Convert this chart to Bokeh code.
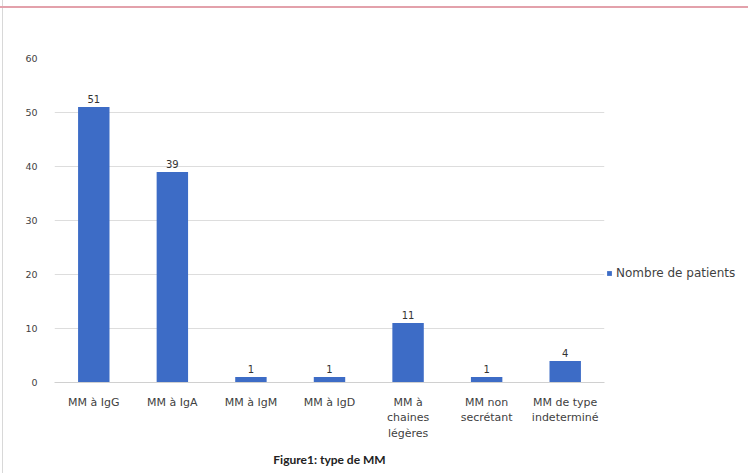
from bokeh.plotting import figure
from bokeh.models import ColumnDataSource, Legend, LegendItem, LabelSet, Title
from bokeh.core.properties import value
from bokeh.embed import file_html
from bokeh.resources import INLINE

# Myeloma types and patient counts
categories = [
    "MM à IgG",
    "MM à IgA",
    "MM à IgM",
    "MM à IgD",
    "MM à\nchaines\nlégères",
    "MM non\nsecrétant",
    "MM de type\nindeterminé",
]
patients = [51, 39, 1, 1, 11, 1, 4]
y_ticks = [0, 10, 20, 30, 40, 50, 60]

FONT = "DejaVu Sans"
TITLE_FONT = "Lato"
BAR = "#3d6cc6"
TEXT = "#3f3f3f"

src = ColumnDataSource(dict(cat=categories, n=patients, lbl=[str(v) for v in patients]))

p = figure(
    frame_width=550, frame_height=324,
    x_range=categories, y_range=(0, 60),
    output_backend="svg", toolbar_location=None,
    min_border_left=54, min_border_right=144,
    min_border_top=58, min_border_bottom=91,
    background_fill_color="white", border_fill_alpha=0,
)
p.outline_line_color = None
# thin page frame: pink rule along the top, grey rule on the left
p.styles = {
    "background": (
        "linear-gradient(to bottom, transparent 6px, #e3a1ab 6px, #e3a1ab 8px, transparent 8px),"
        "linear-gradient(to right, transparent 2px, #d8d8d8 2px, #d8d8d8 3px, transparent 3px),"
        "#ffffff"
    )
}

bars = p.vbar(x="cat", top="n", width=0.4, source=src, fill_color=BAR, line_color=None)

labels = LabelSet(x="cat", y="n", text="lbl", source=src, text_align="center",
                  text_baseline="bottom", y_offset=4, text_font_size="10px",
                  text_color="#333333", text_font=value(FONT))
p.add_layout(labels)

p.xgrid.grid_line_color = None
p.ygrid.grid_line_color = "#dddddd"
p.ygrid.grid_line_width = 1

p.yaxis.ticker = y_ticks
p.yaxis.axis_line_color = None
p.yaxis.major_tick_line_color = None
p.yaxis.minor_tick_line_color = None
p.yaxis.major_label_text_font = FONT
p.yaxis.major_label_text_font_size = "9.5px"
p.yaxis.major_label_text_color = TEXT
p.yaxis.major_label_standoff = 11

p.xaxis.axis_line_color = "#d0d0d0"
p.xaxis.major_tick_line_color = None
p.xaxis.minor_tick_line_color = None
p.xaxis.major_label_text_font = FONT
p.xaxis.major_label_text_font_size = "11px"
p.xaxis.major_label_text_color = TEXT
p.xaxis.major_label_standoff = 7

legend = Legend(
    items=[LegendItem(label="Nombre de patients", renderers=[bars])],
    location=(2, 102), orientation="vertical",
    label_text_font=FONT, label_text_font_size="12px", label_text_color=TEXT,
    glyph_width=6, glyph_height=6, label_standoff=4,
    background_fill_alpha=0, border_line_color=None, padding=2, margin=0,
)
p.add_layout(legend, "right")

caption = Title(text="Figure1: type de MM", align="center", text_font=TITLE_FONT,
                text_font_style="bold", text_font_size="12px", text_color="#222222",
                standoff=15)
p.add_layout(caption, "below")

open("out.html", "w").write(file_html(p, INLINE))
